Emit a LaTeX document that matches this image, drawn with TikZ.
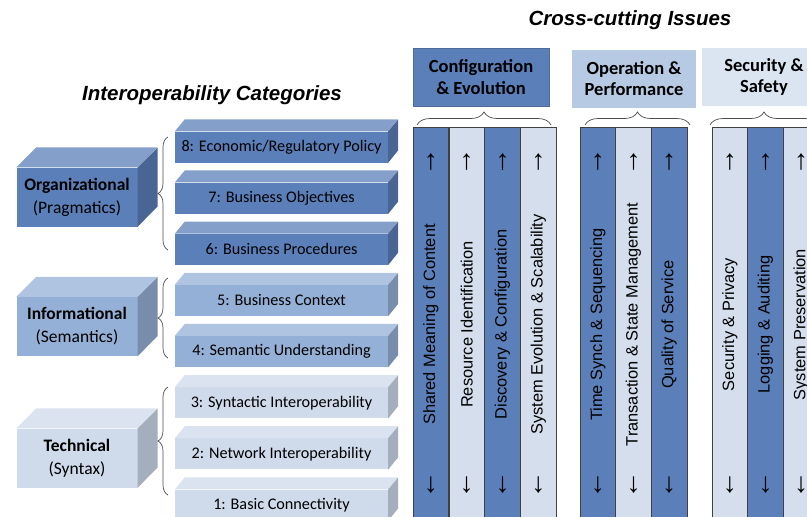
\documentclass[tikz,border=0pt]{standalone}
\usepackage{fontspec}
\setmainfont{Carlito}
\newfontfamily\arialfont{Liberation Sans}
\usetikzlibrary{decorations.pathreplacing}
\definecolor{dk}{HTML}{5B7FB9}
\definecolor{md}{HTML}{95B0D6}
\definecolor{lt}{HTML}{CFDAEB}
\definecolor{colLt}{HTML}{D4DEEC}
\definecolor{hdrOp}{HTML}{B7CAE3}
\definecolor{hdrSec}{HTML}{DBE4F1}

\begin{document}
\begin{tikzpicture}[x=1pt,y=-1pt,
  slab/.style={minimum width=213pt,minimum height=31pt,inner sep=0pt,font=\fontsize{16.2}{18}\selectfont},
  cube/.style={minimum width=121pt,minimum height=59pt,inner sep=0pt,align=center,font=\fontsize{17.5}{23}\selectfont},
  hdr/.style={minimum width=124pt,minimum height=58pt,inner sep=0pt,align=center,font=\fontsize{18.5}{21.5}\selectfont\bfseries},
  col/.style={rotate=90,minimum width=395pt,minimum height=35.75pt,inner sep=0pt,draw=black!75,line width=0.6pt,font=\arialfont\fontsize{16.4}{18}\selectfont},
  arr/.style={inner sep=0pt,font=\arialfont\fontsize{28}{28}\selectfont},
  brc/.style={decorate,decoration={brace,amplitude=#1},draw=black!70,line width=0.7pt},
  brc/.default=10pt,
  ttl/.style={font=\arialfont\fontsize{20.5}{24}\selectfont\bfseries\itshape}]
\useasboundingbox (0,0) rectangle (807,517);
\clip (0,0) rectangle (807,517);
\node[ttl] (ttlcat) at (212,95) {Interoperability Categories};
\node[ttl] (ttlcross) at (630,20) {Cross-cutting Issues};
\foreach \k/\t/\cl in {8/{8: Economic/Regulatory Policy}/dk,7/{7: Business Objectives}/dk,6/{6: Business Procedures}/dk,5/{5: Business Context}/md,4/{4: Semantic Understanding}/md,3/{3: Syntactic Interoperability}/lt,2/{2: Network Interoperability}/lt,1/{1: Basic Connectivity}/lt}{
  \node[slab,fill=\cl] (lvl\k) at (281.5,{147+51.15*(8-\k)}) {\t};
  \fill[\cl!75!white] (lvl\k.north west) -- ++(10,-12) -- ++(213,0) -- (lvl\k.north east) -- cycle;
  \fill[\cl!80!black] (lvl\k.north east) -- ++(10,-12) -- ++(0,31) -- (lvl\k.south east) -- cycle;
}
\foreach \n/\y/\cl/\a/\b in {org/197/dk/Organizational/Pragmatics,info/326.5/md/Informational/Semantics,tech/458/lt/Technical/Syntax}{
  \node[cube,fill=\cl] (\n) at (77,\y) {\textbf{\a}\\(\b)};
  \fill[\cl!75!white] (\n.north west) -- ++(20,-20) -- ++(121,0) -- (\n.north east) -- cycle;
  \fill[\cl!80!black] (\n.north east) -- ++(20,-20) -- ++(0,59) -- (\n.south east) -- cycle;
}
\draw[brc] (168,250) -- (168,137);
\draw[brc] (168,358) -- (168,278);
\draw[brc] (168,495) -- (168,387);
\node[hdr,fill=dk,draw=dk!85!black,minimum width=136pt] (hcfg) at (481,77) {Configuration\\\& Evolution};
\node[hdr,fill=hdrOp] (hop) at (634,78.5) {Operation \&\\Performance};
\node[hdr,fill=hdrSec] (hsec) at (764,77) {Security \&\\Safety};
\draw[brc=13pt] (417,125) -- (551,125);
\draw[brc=13pt] (585,125) -- (690,125);
\draw[brc=13pt] (710,125) -- (818,125);
\foreach \i/\x/\cl/\t in {1/430.9/dk/Shared Meaning of Content,2/466.7/colLt/Resource Identification,3/502.5/dk/Discovery \& Configuration,4/538.3/colLt/System Evolution \& Scalability,5/597.8/dk/Time Synch \& Sequencing,6/633.5/colLt/Transaction \& State Management,7/669.2/dk/Quality of Service,8/729.8/colLt/Security \& Privacy,9/765.5/dk/Logging \& Auditing,10/801.2/colLt/System Preservation}{
  \node[col,fill=\cl] (c\i) at (\x,324.5) {\t};
  \node[arr] (up\i) at (\x,162) {↑};
  \node[arr] (dn\i) at (\x,485) {↓};
}
\end{tikzpicture}
\end{document}
